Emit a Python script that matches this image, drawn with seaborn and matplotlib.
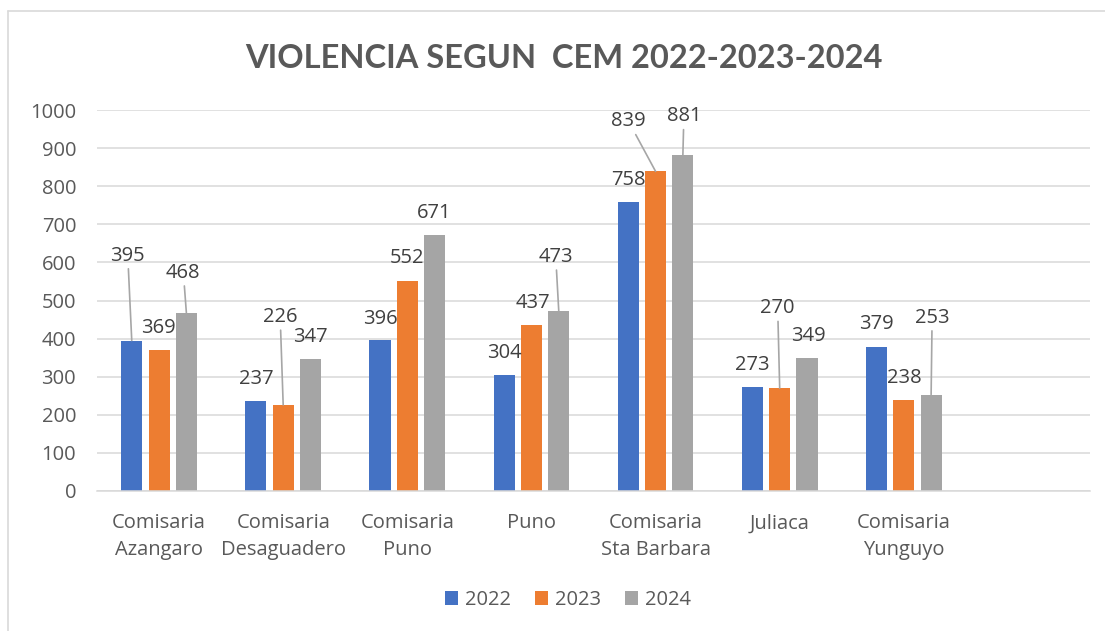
import matplotlib
matplotlib.use("Agg")
import matplotlib.pyplot as plt
import seaborn as sns
import pandas as pd
from matplotlib.lines import Line2D
from matplotlib.patches import Patch

# ---------------- data ----------------
categories = ["Comisaria\nAzangaro", "Comisaria\nDesaguadero", "Comisaria\nPuno", "Puno",
              "Comisaria\nSta Barbara", "Juliaca", "Comisaria\nYunguyo"]
years = ["2022", "2023", "2024"]
v2022 = [395, 237, 396, 304, 758, 273, 379]
v2023 = [369, 226, 552, 437, 839, 270, 238]
v2024 = [468, 347, 671, 473, 881, 349, 253]
yticks = list(range(0, 1001, 100))
title = "VIOLENCIA SEGUN  CEM 2022-2023-2024"

# ---------------- styles ----------------
colors = {"2022": "#4472C4", "2023": "#ED7D31", "2024": "#A5A5A5"}
# data-label offsets in pixels from bar-top centre (dx, dy_up, leader line)
label_offsets = {
    "2022": [(-4, 85, True), (0, 22, False), (0, 21, False), (0, 22, False),
             (0, 22, False), (0, 22, False), (0, 23, False)],
    "2023": [(-1, 22, False), (-3, 88, True), (0, 23, False), (1, 22, False),
             (-27, 50, True), (-2, 80, True), (0, 22, False)],
    "2024": [(-3, 40, True), (0, 22, False), (0, 22, False), (-3, 54, True),
             (1, 39, True), (1, 22, False), (1, 77, True)],
}
FS = 14.5

sns.set_theme(style="white")
plt.rcParams["font.family"] = ["Open Sans", "DejaVu Sans"]

series = {"2022": v2022, "2023": v2023, "2024": v2024}
rows = []
for y in years:
    for c, v in zip(categories, series[y]):
        rows.append({"category": c, "year": y, "value": v})
df = pd.DataFrame(rows)

W, H = 1105, 631
fig = plt.figure(figsize=(W / 100, H / 100), dpi=100)
fig.patch.set_facecolor("white")
ax = fig.add_axes([97 / W, 1 - 491 / H, 993 / W, 381 / H])

sns.barplot(data=df, x="category", y="value", hue="year", order=categories,
            hue_order=years, palette=colors, width=0.66, gap=0.23,
            saturation=1, linewidth=0, legend=False, ax=ax)

ax.set_xlim(-0.5, 7.5)
ax.set_ylim(0, 1000)
ax.set_yticks(yticks)
ax.set_yticklabels([str(t) for t in yticks])
ax.set_xlabel("")
ax.set_ylabel("")
ax.yaxis.grid(True, color="#d9d9d9", linewidth=1.1)
ax.set_axisbelow(True)
for s in ["top", "right", "left"]:
    ax.spines[s].set_visible(False)
ax.spines["bottom"].set_color("#d9d9d9")
ax.spines["bottom"].set_linewidth(1.1)
ax.tick_params(axis="y", length=0, pad=15, labelsize=FS, labelcolor="#595959")
ax.tick_params(axis="x", length=0, pad=16, labelsize=FS, labelcolor="#595959")
for t in ax.get_xticklabels():
    t.set_linespacing(1.45)
ax.set_ylim(0, 1000)

# data labels
for y, cont in zip(years, ax.containers):
    for i, bar in enumerate(cont.patches):
        val = series[y][i]
        dx, dy, leader = label_offsets[y][i]
        xc = bar.get_x() + bar.get_width() / 2
        kw = {}
        if leader:
            kw["arrowprops"] = dict(arrowstyle="-", color="#a6a6a6", lw=1.2,
                                    shrinkA=0, shrinkB=0)
        ax.annotate(str(val), xy=(xc, bar.get_height()), xytext=(dx, dy),
                    textcoords="offset pixels", ha="center", va="center",
                    fontsize=FS, color="#404040", **kw)

# title
fig.text(564 / W, 1 - 58 / H, title, ha="center", va="center", fontsize=23.5,
         fontweight="bold", family=["Lato", "DejaVu Sans"], color="#595959")

# legend
handles = [Patch(facecolor=colors[y], edgecolor="none", label=y) for y in years]
fig.legend(handles=handles, loc="center", bbox_to_anchor=(568 / W, 1 - 600 / H),
           ncol=3, frameon=False, handlelength=0.65, handleheight=0.65,
           handletextpad=0.35, columnspacing=1.2, fontsize=FS,
           labelcolor="#595959")

# chart-area frame
fig.add_artist(Line2D([8 / W, 8 / W], [0, 1 - 11 / H], transform=fig.transFigure,
                      color="#d9d9d9", lw=1.2))
fig.add_artist(Line2D([8 / W, 1], [1 - 11 / H, 1 - 11 / H], transform=fig.transFigure,
                      color="#d9d9d9", lw=1.2))

fig.savefig("out.png", dpi=100, facecolor="white")
